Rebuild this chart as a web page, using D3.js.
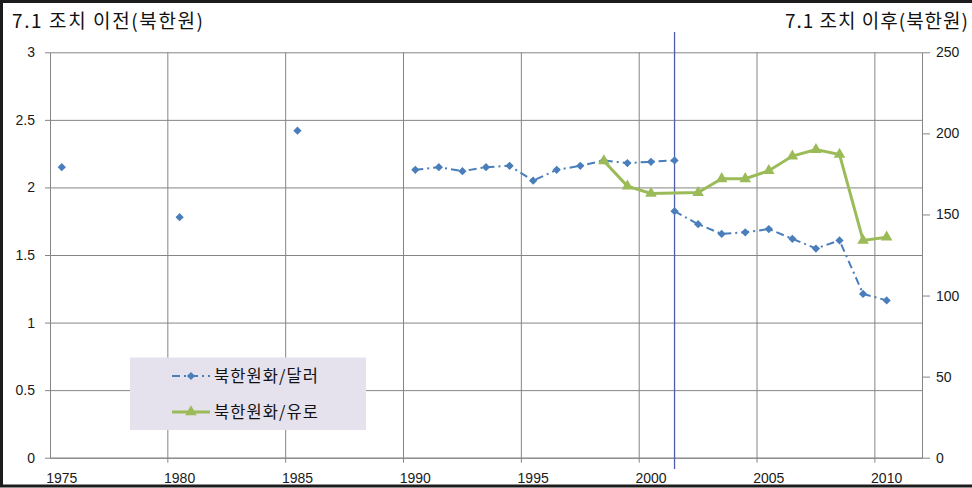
<!DOCTYPE html>
<html>
<head>
<meta charset="utf-8">
<script src="https://cdn.jsdelivr.net/npm/d3@7"></script>
<style>
  body { margin: 0; background: #fff; }
  svg { display: block; font-family: "Noto Sans CJK KR", "Noto Sans", sans-serif; }
  .grid line { stroke: #858585; stroke-width: 1; }
  .grid path { display: none; }
  .axis path, .axis line { stroke: #858585; }
  .axis text { fill: #1a1a1a; font-size: 14px; }
</style>
</head>
<body>
<div id="chart"></div>
<script>
// categories (one band per year)
const years = d3.range(1975, 2012);
const xLabelYears = [1975, 1980, 1985, 1990, 1995, 2000, 2005, 2010];
const gridYears = [1980, 1985, 1990, 1995, 2000, 2005, 2010];

// before the 7.1 measure (left axis)
const usdBeforeYears = [1975, 1980, 1985, 1990, 1991, 1992, 1993, 1994, 1995, 1996, 1997, 1998, 1999, 2000, 2001];
const usdBefore = [2.15, 1.78, 2.42, 2.13, 2.15, 2.12, 2.15, 2.16, 2.05, 2.13, 2.16, 2.2, 2.18, 2.19, 2.2];

// after the 7.1 measure (right axis)
const usdAfterYears = [2001, 2002, 2003, 2004, 2005, 2006, 2007, 2008, 2009, 2010];
const usdAfter = [152, 144, 138, 139, 141, 135, 129, 134, 101, 97];
const eurYears = [1998, 1999, 2000, 2002, 2003, 2004, 2005, 2006, 2007, 2008, 2009, 2010];
const eur = [183, 167.5, 163, 163.5, 172, 172, 177, 186, 190, 187, 134, 136];

const leftTicks = [0, 0.5, 1, 1.5, 2, 2.5, 3];
const rightTicks = [0, 50, 100, 150, 200, 250];
const measureYear = 2001;

const width = 972, height = 488;
const plotLeft = 50, plotRight = 922, plotTop = 52.3, plotBottom = 457.7;

const blue = "#4a7ebb", green = "#9bbb59";

const svg = d3.select("#chart").append("svg")
    .attr("width", width)
    .attr("height", height);

// outer frame
svg.append("rect")
    .attr("x", 1.5).attr("y", 1.5)
    .attr("width", 1000).attr("height", 484.5)
    .attr("fill", "#fff")
    .attr("stroke", "#1c1c1c")
    .attr("stroke-width", 3);

let x = d3.scaleBand().domain(years).range([plotLeft, plotRight]).padding(0);
let cx = (yr) => x(yr) + x.bandwidth() / 2;
let yL = d3.scaleLinear().domain([0, 3]).range([plotBottom, plotTop]);
let yR = d3.scaleLinear().domain([0, 250]).range([plotBottom, plotTop]);

// horizontal grid
svg.append("g")
    .attr("class", "grid")
    .attr("transform", `translate(${plotLeft},0)`)
    .call(d3.axisLeft(yL).tickValues(leftTicks).tickSize(-(plotRight - plotLeft)).tickFormat(""));

// vertical grid at category boundaries
svg.append("g").attr("class", "grid")
    .selectAll("line")
    .data(gridYears)
    .join("line")
    .attr("x1", d => x(d)).attr("x2", d => x(d))
    .attr("y1", plotTop).attr("y2", plotBottom + 5);

// left axis
svg.append("g")
    .attr("class", "axis")
    .attr("transform", `translate(${plotLeft},0)`)
    .call(d3.axisLeft(yL).tickValues(leftTicks).tickSize(5).tickPadding(10).tickSizeOuter(0)
        .tickFormat(d3.format("")));

// right axis
svg.append("g")
    .attr("class", "axis")
    .attr("transform", `translate(${plotRight},0)`)
    .call(d3.axisRight(yR).tickValues(rightTicks).tickSize(8).tickPadding(6).tickSizeOuter(0));

// bottom axis
let xAxis = svg.append("g")
    .attr("class", "axis")
    .attr("transform", `translate(0,${plotBottom})`)
    .call(d3.axisBottom(x).tickValues(xLabelYears).tickSize(0).tickPadding(15).tickSizeOuter(0));
xAxis.select(".domain").attr("stroke", "#858585");

// the 7.1 measure marker line
svg.append("line")
    .attr("x1", cx(measureYear)).attr("x2", cx(measureYear))
    .attr("y1", 32).attr("y2", 469)
    .attr("stroke", "#4c5fae")
    .attr("stroke-width", 1.3);

// split a year/value list into runs of consecutive years
function runs(yrs, vals) {
    let out = [], cur = [];
    yrs.forEach((yr, i) => {
        if (cur.length && yr - cur[cur.length - 1].yr > 1) { out.push(cur); cur = []; }
        cur.push({yr: yr, v: vals[i]});
    });
    out.push(cur);
    return out.filter(r => r.length > 1);
}

const dash = "8,4,2,4";

let lineL = d3.line().x(d => cx(d.yr)).y(d => yL(d.v));
let lineR = d3.line().x(d => cx(d.yr)).y(d => yR(d.v));

svg.append("g").selectAll("path")
    .data(runs(usdBeforeYears, usdBefore))
    .join("path")
    .attr("d", lineL)
    .attr("fill", "none").attr("stroke", blue).attr("stroke-width", 2)
    .attr("stroke-dasharray", dash);

svg.append("path")
    .datum(usdAfterYears.map((yr, i) => ({yr: yr, v: usdAfter[i]})))
    .attr("d", lineR)
    .attr("fill", "none").attr("stroke", blue).attr("stroke-width", 2)
    .attr("stroke-dasharray", dash);

let eurData = eurYears.map((yr, i) => ({yr: yr, v: eur[i]}));
svg.append("path")
    .datum(eurData)
    .attr("d", lineR)
    .attr("fill", "none").attr("stroke", green).attr("stroke-width", 3);

let diamond = d3.symbol().type(d3.symbolSquare).size(34);
let triangle = d3.symbol().type(d3.symbolTriangle).size(58);

svg.append("g").selectAll("path")
    .data(usdBeforeYears.map((yr, i) => ({yr: yr, v: usdBefore[i]})))
    .join("path")
    .attr("d", diamond)
    .attr("transform", d => `translate(${cx(d.yr)},${yL(d.v)}) rotate(45)`)
    .attr("fill", blue);

svg.append("g").selectAll("path")
    .data(usdAfterYears.map((yr, i) => ({yr: yr, v: usdAfter[i]})))
    .join("path")
    .attr("d", diamond)
    .attr("transform", d => `translate(${cx(d.yr)},${yR(d.v)}) rotate(45)`)
    .attr("fill", blue);

svg.append("g").selectAll("path")
    .data(eurData)
    .join("path")
    .attr("d", triangle)
    .attr("transform", d => `translate(${cx(d.yr)},${yR(d.v)})`)
    .attr("fill", green);

// axis titles
svg.append("text")
    .attr("x", 12).attr("y", 28)
    .attr("font-size", 19)
    .attr("textLength", 191).attr("lengthAdjust", "spacing")
    .attr("fill", "#111")
    .text("7.1 조치 이전(북한원)");
svg.append("text")
    .attr("x", 785).attr("y", 28)
    .attr("font-size", 19)
    .attr("textLength", 183).attr("lengthAdjust", "spacing")
    .attr("fill", "#111")
    .text("7.1 조치 이후(북한원)");

// legend
let legend = svg.append("g");
legend.append("rect")
    .attr("x", 130).attr("y", 357.5)
    .attr("width", 236).attr("height", 72.5)
    .attr("fill", "#e5e2ee");

let legendItems = [
    {name: "북한원화/달러", color: blue, sym: diamond, rot: 45, w: 2, dash: dash, y: 376},
    {name: "북한원화/유로", color: green, sym: triangle, rot: 0, w: 3, dash: null, y: 412}
];
let li = legend.selectAll("g.item").data(legendItems).join("g").attr("class", "item");
li.append("line")
    .attr("x1", 172).attr("x2", 210)
    .attr("y1", d => d.y).attr("y2", d => d.y)
    .attr("stroke", d => d.color)
    .attr("stroke-width", d => d.w)
    .attr("stroke-dasharray", d => d.dash);
li.append("path")
    .attr("d", d => d.sym())
    .attr("transform", d => `translate(191,${d.y}) rotate(${d.rot})`)
    .attr("fill", d => d.color);
li.append("text")
    .attr("x", 214).attr("y", d => d.y)
    .attr("dy", "0.36em")
    .attr("font-size", 16.5)
    .attr("textLength", 104).attr("lengthAdjust", "spacing")
    .attr("fill", "#111")
    .text(d => d.name);
</script>
</body>
</html>
